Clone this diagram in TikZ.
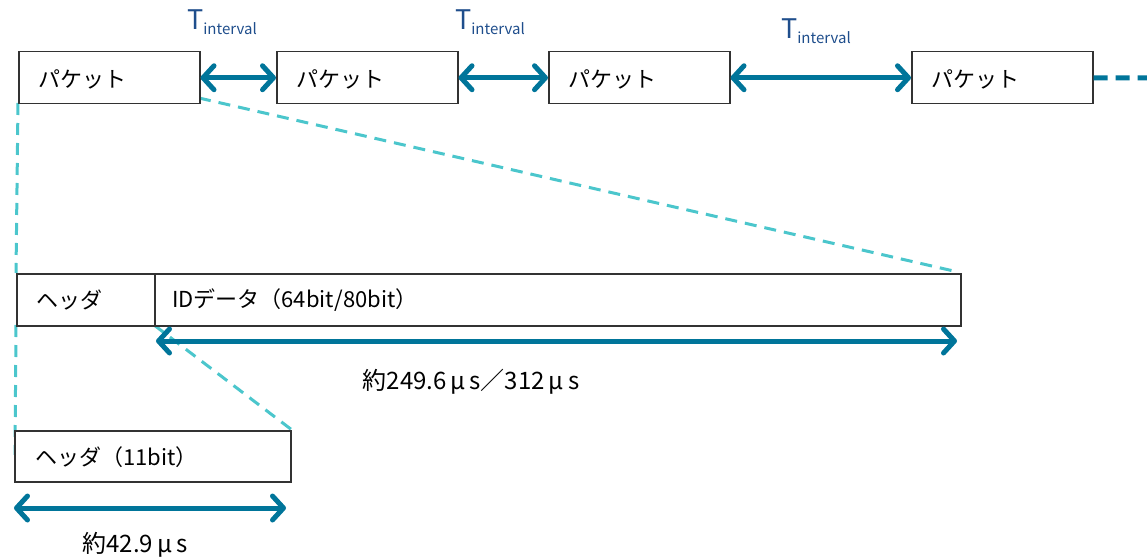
\documentclass[tikz,border=0pt]{standalone}
\usepackage{fontspec}
\setmainfont{Noto Sans CJK JP}
\usetikzlibrary{arrows.meta}
\definecolor{arrowc}{RGB}{0,117,154}
\definecolor{dashc}{RGB}{75,198,204}
\definecolor{tcol}{RGB}{31,78,140}
\definecolor{boxc}{RGB}{50,50,50}
\tikzset{
  box/.style={draw=boxc, line width=1.5pt, fill=white},
  lbl/.style={anchor=west, inner sep=0pt, font=\fontsize{22}{26}\selectfont},
  dim/.style={draw=arrowc, line width=5pt, {Straight Barb[length=11pt,width=24pt,round]}-{Straight Barb[length=11pt,width=24pt,round]}},
  zoomline/.style={draw=dashc, line width=3pt, dash pattern=on 12pt off 8pt},
  tint/.style={text=tcol, inner sep=0pt, font=\fontsize{27}{29}\selectfont},
  meas/.style={inner sep=0pt, font=\fontsize{24}{28}\selectfont},
}
\newcommand{\tiv}{T\raisebox{-0.35ex}{\fontsize{15}{16}\selectfont interval}}
\begin{document}
\begin{tikzpicture}[x=1pt,y=-1pt]
\useasboundingbox (0,0) rectangle (1147,559);
% dashed zoom lines (behind boxes)
\coordinate (p1bl) at (18,103);
\coordinate (p1br) at (199,98);
\draw[zoomline] (p1bl) -- (16,273);
\draw[zoomline] (p1br) -- (958,272);
\draw[zoomline] (16,325) -- (15,455);
\draw[zoomline] (154,325) -- (292,430);
% packets
\node[box, minimum width=181pt, minimum height=52pt, anchor=north west] (p1) at (18,51) {};
\node[box, minimum width=181pt, minimum height=52pt, anchor=north west] (p2) at (276,51) {};
\node[box, minimum width=181pt, minimum height=52pt, anchor=north west] (p3) at (548,51) {};
\node[box, minimum width=181pt, minimum height=52pt, anchor=north west] (p4) at (911,51) {};
\node[lbl] (t1) at (38,79) {パケット};
\node[lbl] (t2) at (296,79) {パケット};
\node[lbl] (t3) at (568,79) {パケット};
\node[lbl] (t4) at (931,79) {パケット};
% interval arrows
\draw[dim] (p1.east) -- (p2.west);
\draw[dim] (p2.east) -- (p3.west);
\draw[dim] (p3.east) -- (p4.west);
\coordinate (cont) at (1150,78);
\draw[draw=arrowc, line width=5pt, dash pattern=on 14pt off 8pt] (p4.east) -- (cont);
\node[tint] (i1) at (222,22) {\tiv};
\node[tint] (i2) at (490,22) {\tiv};
\node[tint] (i3) at (816,31) {\tiv};
% header + ID data
\node[box, minimum width=138pt, minimum height=52pt, anchor=north west] (hd) at (16,273) {};
\node[box, minimum width=806pt, minimum height=52pt, anchor=north west] (id) at (154,273) {};
\node[lbl] (hdt) at (36,300) {ヘッダ};
\node[lbl] (idt) at (172,300) {IDデータ（64bit/80bit）};
\coordinate (a1) at (156,341);
\coordinate (a2) at (957,341);
\draw[dim] (a1) -- (a2);
\node[meas] (m1) at (471,382) {約249.6\,μ\,s／312\,μ\,s};
% bottom header
\node[box, minimum width=276pt, minimum height=51pt, anchor=north west] (hb) at (14,430) {};
\node[lbl] (hbt) at (35,457) {ヘッダ（11bit）};
\coordinate (b1) at (14,508);
\coordinate (b2) at (286,508);
\draw[dim] (b1) -- (b2);
\node[meas] (m2) at (135,545) {約42.9\,μ\,s};
\end{tikzpicture}
\end{document}
